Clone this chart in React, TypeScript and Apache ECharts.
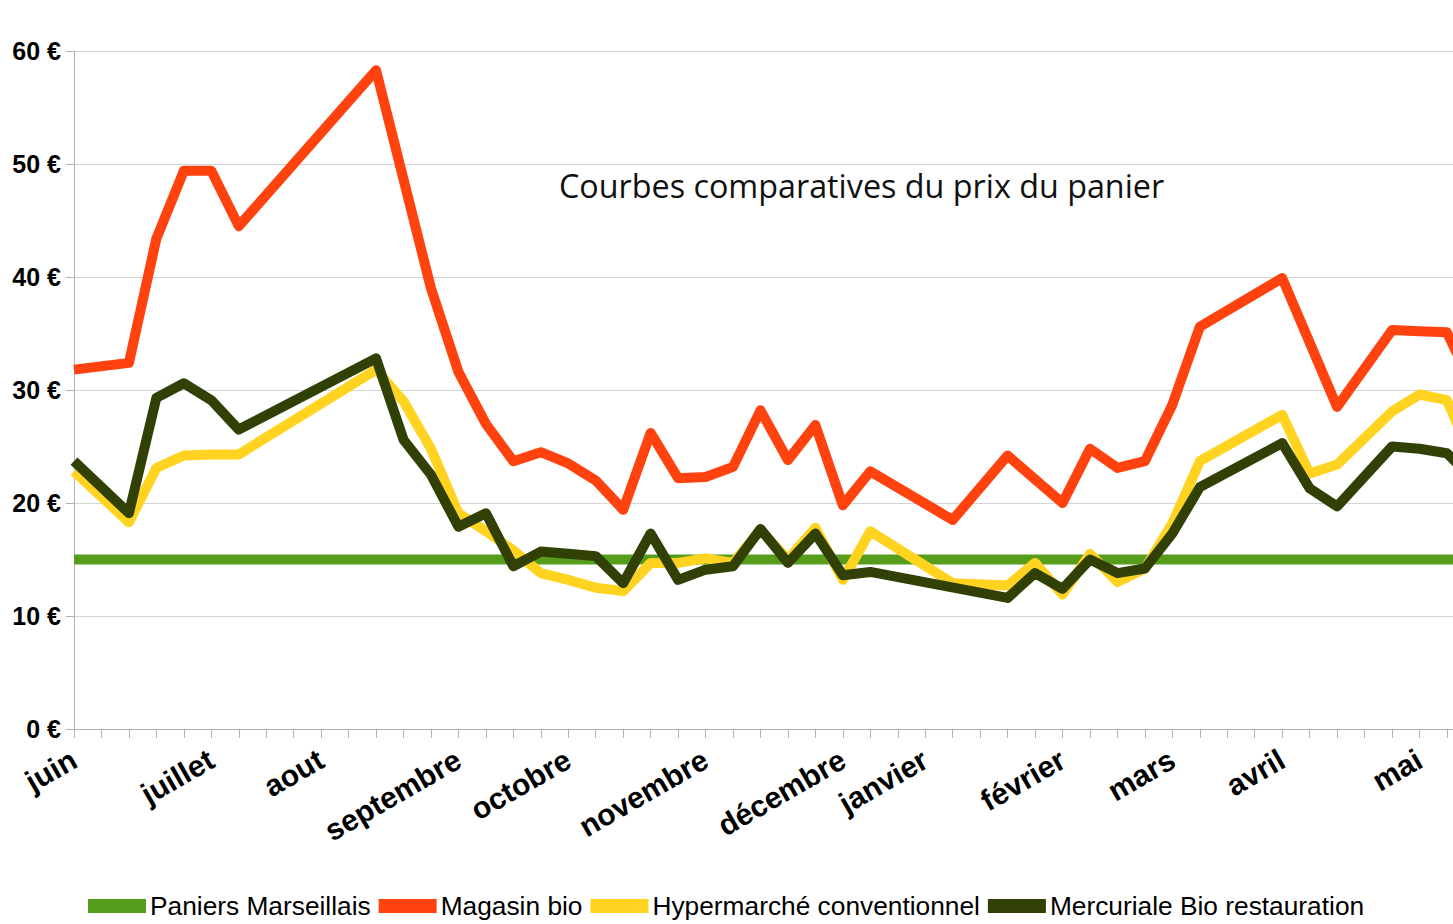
import React, { useEffect, useRef } from "react";
import * as echarts from "echarts";

// Weekly points, June -> May (index 0..51)
const monthLabels = ["juin", "juillet", "aout", "septembre", "octobre", "novembre", "décembre", "janvier", "février", "mars", "avril", "mai"];
const monthIndex = [0, 5, 9, 14, 18, 23, 28, 31, 36, 40, 44, 49];
const weekCount = 52;

const seriesNames = ["Paniers Marseillais", "Magasin bio", "Hypermarché conventionnel", "Mercuriale Bio restauration"];
const seriesColors = ["#579d1c", "#ff420e", "#ffd320", "#314004"];

const paniersMarseillais = [
  15, 15, 15, 15, 15, 15, 15, 15, 15, 15, 15, 15, 15, 15, 15, 15, 15, 15, 15, 15, 15, 15, 15, 15, 15, 15,
  15, 15, 15, 15, 15, 15, 15, 15, 15, 15, 15, 15, 15, 15, 15, 15, 15, 15, 15, 15, 15, 15, 15, 15, 15, 15,
];
const magasinBio = [
  31.8, null, 32.4, 43.4, 49.4, 49.4, 44.5, null, null, null, null, 58.3, null, 39.0, 31.6, 27.0, 23.7, 24.5, 23.5, 22.0, 19.4, 26.2, 22.2, 22.3, 23.2, 28.2,
  23.8, 26.9, 19.8, 22.8, null, null, 18.5, null, 24.2, null, 20.0, 24.8, 23.1, 23.7, 28.7, 35.6, null, null, 39.9, null, 28.5, null, 35.3, 35.2, 35.1, 30.0,
];
const hypermarche = [
  22.8, null, 18.3, 23.1, 24.2, 24.3, 24.3, null, null, null, null, 31.8, 29.0, 24.8, 19.1, 17.5, 15.8, 13.8, 13.2, 12.5, 12.2, 14.7, 14.7, 15.1, 14.7, 17.6,
  15.0, 17.8, 13.2, 17.5, null, null, 12.9, null, 12.7, 14.7, 11.9, 15.5, 13.0, 14.2, 18.2, 23.7, null, null, 27.8, 22.6, 23.4, null, 28.1, 29.6, 29.1, 23.5,
];
const mercuriale = [
  23.7, null, 19.1, 29.3, 30.6, 29.1, 26.5, null, null, null, null, 32.8, 25.6, 22.5, 17.9, 19.1, 14.4, 15.7, 15.5, 15.3, 12.9, 17.3, 13.2, 14.1, 14.4, 17.7,
  14.7, 17.3, 13.6, 13.9, null, null, null, null, 11.6, 13.8, 12.4, 15.0, 13.8, 14.2, 17.3, 21.4, null, null, 25.3, 21.3, 19.7, null, 25.0, 24.8, 24.4, 22.0,
];

const yTicks = { min: 0, max: 60, interval: 10 };
const titleText = "Courbes comparatives du prix du panier";

export default function App() {
  const ref = useRef<HTMLDivElement>(null);

  useEffect(() => {
    if (!ref.current) return;
    const chart = echarts.init(ref.current, null, { renderer: "svg" });

    const categories: string[] = [];
    for (let i = 0; i < weekCount; i++) categories.push("");
    monthIndex.forEach((idx, k) => {
      categories[idx] = monthLabels[k];
    });

    const dataSets = [paniersMarseillais, magasinBio, hypermarche, mercuriale];

    chart.setOption({
      animation: false,
      backgroundColor: "#ffffff",
      title: {
        text: titleText,
        left: 559,
        top: 169,
        padding: 0,
        textStyle: {
          fontFamily: "'Open Sans', sans-serif",
          fontSize: 32.3,
          fontWeight: "normal",
          color: "#111111",
        },
      },
      legend: {
        top: 893,
        left: 88,
        padding: 0,
        icon: "rect",
        itemWidth: 58,
        itemHeight: 14,
        itemGap: 8,
        data: seriesNames,
        textStyle: {
          fontFamily: "'Liberation Sans', Arial, sans-serif",
          fontSize: 26.3,
          color: "#000000",
          padding: [0, 0, 0, -1],
        },
      },
      grid: {
        left: 74,
        right: 0,
        top: 51,
        bottom: 195,
        containLabel: false,
      },
      xAxis: {
        type: "category",
        boundaryGap: false,
        data: categories,
        axisLine: { lineStyle: { color: "#b3b3b3", width: 1 } },
        axisTick: { show: true, interval: 0, length: 9, lineStyle: { color: "#b3b3b3" } },
        axisLabel: {
          interval: 0,
          rotate: 30,
          margin: 28,
          fontFamily: "'Liberation Sans', Arial, sans-serif",
          fontWeight: "bold",
          fontSize: 30,
          color: "#000000",
        },
        splitLine: { show: false },
      },
      yAxis: {
        type: "value",
        min: yTicks.min,
        max: yTicks.max,
        interval: yTicks.interval,
        axisLine: { show: true, lineStyle: { color: "#b3b3b3", width: 1 } },
        axisTick: { show: true, length: 8, lineStyle: { color: "#b3b3b3" } },
        axisLabel: {
          formatter: "{value} €",
          margin: 13,
          fontFamily: "'Liberation Sans', Arial, sans-serif",
          fontWeight: "bold",
          fontSize: 25,
          color: "#000000",
        },
        splitLine: { show: true, lineStyle: { color: "#d4d4d4", width: 1 } },
      },
      series: dataSets.map((d, i) => ({
        name: seriesNames[i],
        type: "line",
        data: d,
        connectNulls: true,
        showSymbol: false,
        symbol: "none",
        color: seriesColors[i],
        lineStyle: { color: seriesColors[i], width: 10, join: "round", cap: "butt" },
        itemStyle: { color: seriesColors[i] },
        z: 2 + i,
      })),
    });

    return () => chart.dispose();
  }, []);

  return (
    <div style={{ position: "fixed", left: 0, top: 0, width: "1453px", height: "924px", overflow: "hidden", background: "#fff" }}>
      <div ref={ref} style={{ width: "1477px", height: "924px" }} />
    </div>
  );
}
